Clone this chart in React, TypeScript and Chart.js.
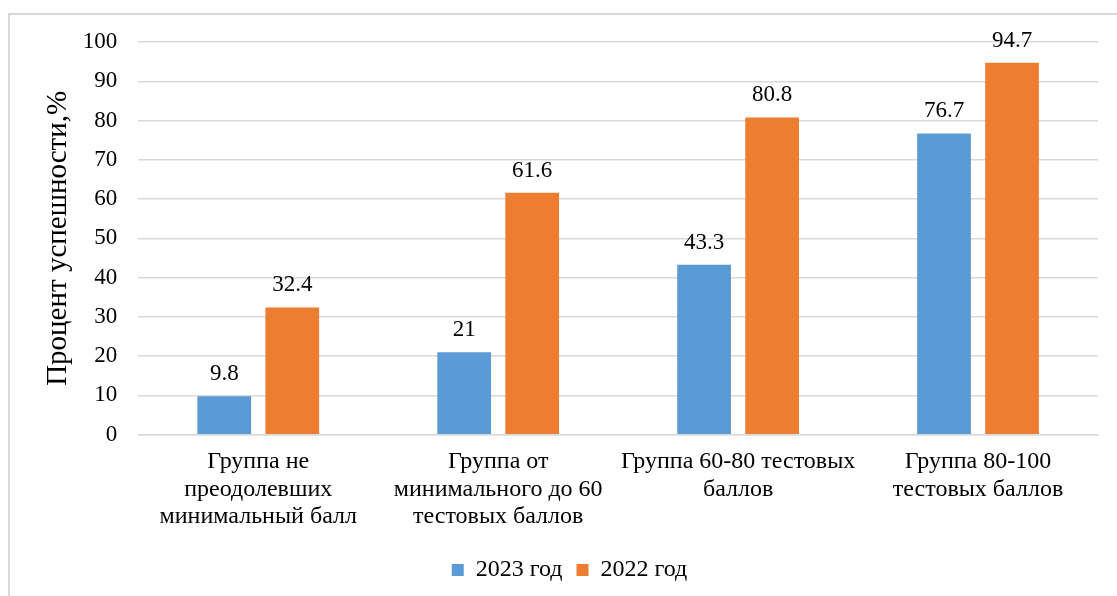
import React, { useEffect, useRef } from "react";
import { Chart, registerables } from "chart.js";

Chart.register(...registerables);

const categories: string[][] = [
  ["Группа не", "преодолевших", "минимальный балл"],
  ["Группа от", "минимального до 60", "тестовых баллов"],
  ["Группа 60-80 тестовых", "баллов"],
  ["Группа 80-100", "тестовых баллов"],
];
const series2023: number[] = [9.8, 21, 43.3, 76.7];
const series2022: number[] = [32.4, 61.6, 80.8, 94.7];
const seriesNames: string[] = ["2023 год", "2022 год"];
const yAxisTitle = "Процент успешности,%";

const FONT = "'Liberation Serif', 'Times New Roman', serif";

const dataLabelPlugin = {
  id: "dataLabels",
  afterDatasetsDraw(chart: any) {
    const ctx = chart.ctx;
    ctx.save();
    ctx.font = `23px ${FONT}`;
    ctx.fillStyle = "#000";
    ctx.textAlign = "center";
    ctx.textBaseline = "alphabetic";
    chart.data.datasets.forEach((ds: any, di: number) => {
      const meta = chart.getDatasetMeta(di);
      meta.data.forEach((bar: any, i: number) => {
        ctx.fillText(String(ds.data[i]), bar.x, bar.y - 16);
      });
    });
    ctx.restore();
  },
};

export default function App() {
  const ref = useRef<HTMLCanvasElement | null>(null);
  useEffect(() => {
    if (!ref.current) return;
    const chart = new Chart(ref.current, {
      type: "bar",
      data: {
        labels: categories,
        datasets: [
          {
            label: seriesNames[0],
            data: series2023,
            backgroundColor: "#5B9BD5",
            categoryPercentage: 0.567,
            barPercentage: 0.79,
          },
          {
            label: seriesNames[1],
            data: series2022,
            backgroundColor: "#ED7D31",
            categoryPercentage: 0.567,
            barPercentage: 0.79,
          },
        ],
      },
      options: {
        animation: false,
        responsive: true,
        maintainAspectRatio: false,
        layout: { padding: { top: 27, right: 19, left: 31, bottom: 4 } },
        plugins: {
          legend: {
            position: "bottom",
            labels: {
              boxWidth: 12,
              boxHeight: 12,
              color: "#000",
              font: { family: FONT, size: 24 },
              padding: 14,
            },
          },
          tooltip: { enabled: false },
        },
        scales: {
          x: {
            grid: { display: false, drawTicks: false },
            border: { display: true, color: "#d9d9d9", width: 1.5 },
            ticks: {
              color: "#000",
              font: { family: FONT, size: 24, lineHeight: 1.13 },
              padding: 14,
              maxRotation: 0,
              autoSkip: false,
            },
          },
          y: {
            min: 0,
            max: 100,
            grid: { color: "#d9d9d9", lineWidth: 1.5, drawTicks: false },
            border: { display: false },
            afterFit: (scale: any) => {
              scale.paddingTop = 0;
            },
            ticks: {
              stepSize: 10,
              color: "#000",
              font: { family: FONT, size: 23 },
              padding: 21,
            },
            title: {
              display: true,
              text: yAxisTitle,
              color: "#000",
              font: { family: FONT, size: 29 },
              padding: { top: 0, bottom: -14 },
            },
          },
        },
      },
      plugins: [dataLabelPlugin],
    });
    return () => chart.destroy();
  }, []);
  return (
    <div
      style={{
        position: "absolute",
        left: 8,
        top: 13,
        right: 0,
        bottom: 0,
        borderTop: "2px solid #d9d9d9",
        borderLeft: "2px solid #d9d9d9",
        background: "#fff",
      }}
    >
      <div style={{ width: 1107, height: 581 }}>
        <canvas ref={ref} />
      </div>
    </div>
  );
}
